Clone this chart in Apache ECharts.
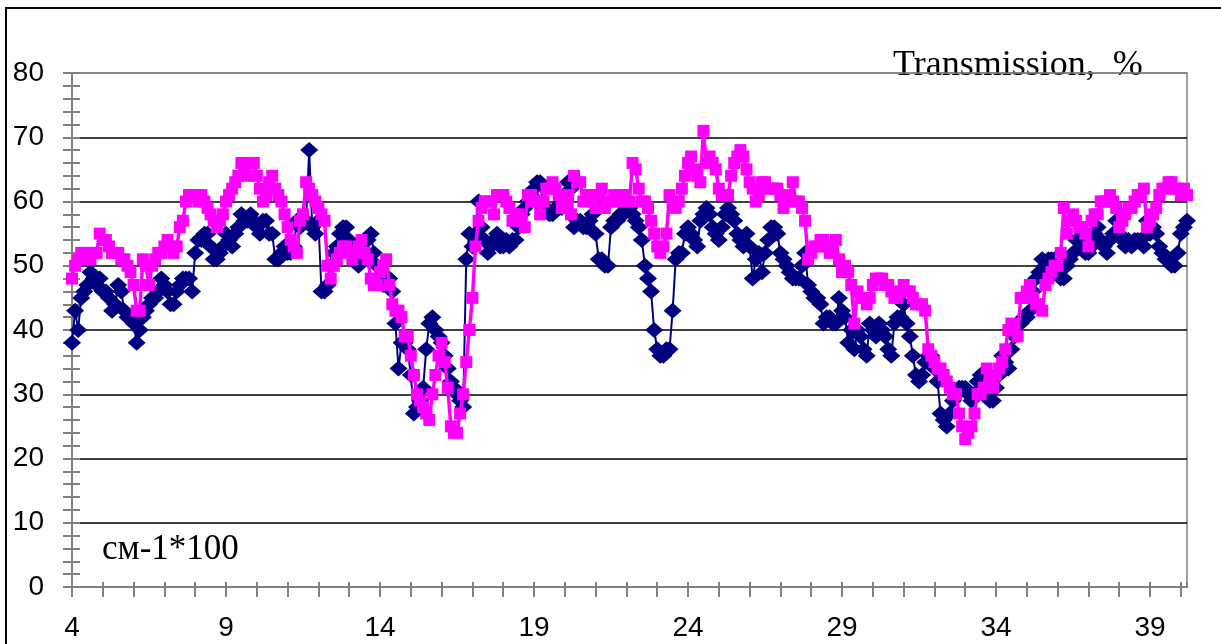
<!DOCTYPE html>
<html><head><meta charset="utf-8">
<script src="https://cdn.jsdelivr.net/npm/echarts@6/dist/echarts.min.js"></script>
<style>html,body{margin:0;padding:0;background:#fff}#c{width:1221px;height:644px}</style>
</head><body><div id="c"></div>
<script>
// x grid: wavenumber (cm-1 * 100), sampled every 0.1 from 4.0 to 40.2
const xStart = 4.0;
const xStep = 0.1;
const xLabels = [4, 9, 14, 19, 24, 29, 34, 39];
const yTicks = [0, 10, 20, 30, 40, 50, 60, 70, 80];
const titleText = 'Transmission,  %';
const unitText = 'см-1*100';

// Transmission, % — dark blue (diamonds)
const seriesNavy = [
  38,43,40,45,46,47,49,48,47,48,
  46,46,45,43,44,47,46,43,42,42,
  41,38,40,42,43,44,45,45,46,48,
  47,46,44,44,46,47,48,48,48,46,
  52,54,54,55,55,53,51,51,52,53,
  55,54,53,55,56,58,57,57,58,57,
  56,55,57,57,55,55,51,51,52,53,
  52,52,53,57,56,57,57,68,56,55,
  57,46,46,47,50,52,53,55,56,56,
  54,52,51,50,51,52,54,55,52,50,
  48,47,47,48,46,41,34,38,38,37,
  33,27,28,29,31,37,41,42,40,39,
  38,36,34,32,31,30,29,28,51,55,
  53,55,60,56,54,52,53,54,55,53,
  53,54,53,54,54,56,58,59,60,61,
  62,63,63,59,59,58,58,59,59,59,
  60,63,62,56,57,57,56,56,57,58,
  55,51,51,50,50,56,57,57,58,58,
  59,59,58,57,56,54,50,48,46,40,
  37,36,36,37,37,43,51,52,52,55,
  56,55,54,53,57,58,59,58,56,55,
  54,56,58,59,58,57,55,54,53,55,
  53,48,51,52,49,52,54,56,56,55,
  52,51,50,49,48,48,48,50,52,47,
  46,45,45,44,41,42,42,41,41,45,
  43,42,38,40,37,40,39,37,36,41,
  40,39,41,40,39,37,36,41,42,42,
  44,41,39,36,33,32,33,35,36,36,
  34,32,27,26,25,27,29,30,31,31,
  31,30,29,30,32,33,32,30,29,29,
  31,33,36,35,34,37,39,41,41,42,
  42,43,46,48,49,51,50,51,51,51,
  49,48,48,50,51,52,54,54,53,52,
  52,53,55,56,54,53,52,54,55,57,
  55,54,53,54,53,54,54,54,53,57,
  55,56,55,53,52,51,51,50,50,52,
  55,56,57
];

// Transmission, % — magenta (squares)
const seriesMagenta = [
  48,50,51,52,51,52,51,52,52,55,
  54,54,53,52,52,52,51,51,50,49,
  47,43,43,51,50,47,50,51,52,52,
  53,54,53,52,53,56,57,60,61,61,
  61,60,61,60,59,58,57,56,57,58,
  60,61,62,63,64,66,65,64,66,66,
  64,62,60,61,63,64,62,61,60,58,
  56,54,53,52,57,58,63,62,61,60,
  59,58,57,50,48,50,51,52,53,53,
  52,51,52,53,54,52,51,48,47,47,
  49,50,51,47,44,43,43,42,39,39,
  36,33,30,29,28,27,26,30,33,36,
  38,35,31,25,24,24,27,30,35,40,
  45,53,57,59,60,60,60,58,61,61,
  61,60,59,57,58,58,57,56,61,61,
  60,60,58,60,62,62,63,62,61,59,
  60,61,58,64,63,63,60,61,61,60,
  59,61,62,59,60,60,61,60,61,61,
  60,60,66,65,62,60,60,59,57,55,
  53,52,53,55,61,60,59,60,62,64,
  66,67,65,64,63,71,66,67,66,65,
  62,61,61,61,64,66,67,68,67,65,
  63,62,60,61,63,63,62,62,62,62,
  61,59,60,61,63,60,60,59,57,51,
  52,53,53,54,54,53,52,53,54,51,
  49,50,49,47,41,46,45,45,44,45,
  47,48,48,48,47,47,46,45,45,46,
  47,46,46,45,44,44,44,43,37,36,
  35,34,34,33,32,31,30,30,27,25,
  23,24,25,27,30,30,31,34,32,31,
  33,34,35,37,40,41,40,39,45,45,
  46,47,45,44,44,43,47,48,49,50,
  50,52,59,55,57,58,57,56,56,55,
  53,57,58,58,60,60,60,61,60,59,
  56,57,58,59,59,60,61,61,62,56,
  57,58,59,61,62,62,63,63,62,62,
  61,62,61
];

const toPairs = arr => arr.map((v, i) => [+(xStart + i * xStep).toFixed(1), v]);
const xMax = +(xStart + (seriesNavy.length - 1) * xStep).toFixed(1);

const chart = echarts.init(document.getElementById('c'), null, {renderer: 'canvas'});
const gray = '#808080';
const tickFont = {fontFamily: 'Liberation Sans, Arial, sans-serif', fontSize: 28, color: '#000'};
const splitColors = yTicks.map((t, i) => (i === 0 || i === yTicks.length - 1) ? gray : '#000');

const xBase = {
  type: 'value', min: xStart, max: xMax, interval: 1, position: 'bottom',
  splitLine: {show: false}
};
const yBase = {
  type: 'value', min: yTicks[0], max: yTicks[yTicks.length - 1], interval: 10, position: 'left'
};

chart.setOption({
  animation: false,
  backgroundColor: '#fff',
  grid: {left: 72, right: 34, top: 73, bottom: 57, show: true, borderColor: gray, borderWidth: 1.5, backgroundColor: 'transparent'},
  xAxis: [
    Object.assign({}, xBase, {
      axisLine: {show: true, lineStyle: {color: gray, width: 2}},
      axisTick: {show: true, inside: false, length: 10, lineStyle: {color: gray, width: 2}},
      axisLabel: Object.assign({}, tickFont, {
        margin: 27, showMaxLabel: false,
        formatter: v => xLabels.some(l => Math.abs(l - v) < 1e-6) ? String(Math.round(v)) : ''
      })
    }),
    Object.assign({}, xBase, {
      axisLine: {show: false},
      axisTick: {show: true, inside: true, length: 5, lineStyle: {color: gray, width: 2}},
      axisLabel: {show: false}
    })
  ],
  yAxis: [
    Object.assign({}, yBase, {
      axisLine: {show: true, lineStyle: {color: gray, width: 2}},
      axisTick: {show: true, inside: false, length: 9, lineStyle: {color: gray, width: 2}},
      minorTick: {show: true, splitNumber: 5, length: 9, lineStyle: {color: gray, width: 2}},
      splitLine: {show: true, lineStyle: {color: splitColors, width: 1.5}},
      axisLabel: Object.assign({}, tickFont, {margin: 28})
    }),
    Object.assign({}, yBase, {
      axisLine: {show: false},
      axisTick: {show: true, inside: true, length: 8, lineStyle: {color: gray, width: 2}},
      minorTick: {show: true, splitNumber: 5, length: 8, lineStyle: {color: gray, width: 2}},
      splitLine: {show: false},
      axisLabel: {show: false}
    })
  ],
  series: [
    {
      type: 'line', xAxisIndex: 0, yAxisIndex: 0,
      data: toPairs(seriesNavy),
      symbol: 'diamond', symbolSize: [18, 16],
      itemStyle: {color: '#000080'},
      lineStyle: {color: '#000080', width: 2},
      z: 3
    },
    {
      type: 'line', xAxisIndex: 0, yAxisIndex: 0,
      data: toPairs(seriesMagenta),
      symbol: 'rect', symbolSize: 12,
      itemStyle: {color: '#FF00FF'},
      lineStyle: {color: '#FF00FF', width: 3.5},
      z: 4
    }
  ],
  graphic: [
    {type: 'rect', shape: {x: 6, y: 8, width: 1240, height: 660}, style: {fill: 'none', stroke: '#000', lineWidth: 2}, silent: true},
    {type: 'text', x: 893, y: 84, style: {text: titleText, fontFamily: 'Liberation Serif, Times New Roman, serif', fontSize: 36, fill: '#000', textVerticalAlign: 'bottom', verticalAlign: 'bottom'}},
    {type: 'text', x: 102, y: 567, style: {text: unitText, fontFamily: 'Liberation Serif, Times New Roman, serif', fontSize: 35, fill: '#000', textVerticalAlign: 'bottom', verticalAlign: 'bottom'}}
  ]
});
</script>
</body></html>
